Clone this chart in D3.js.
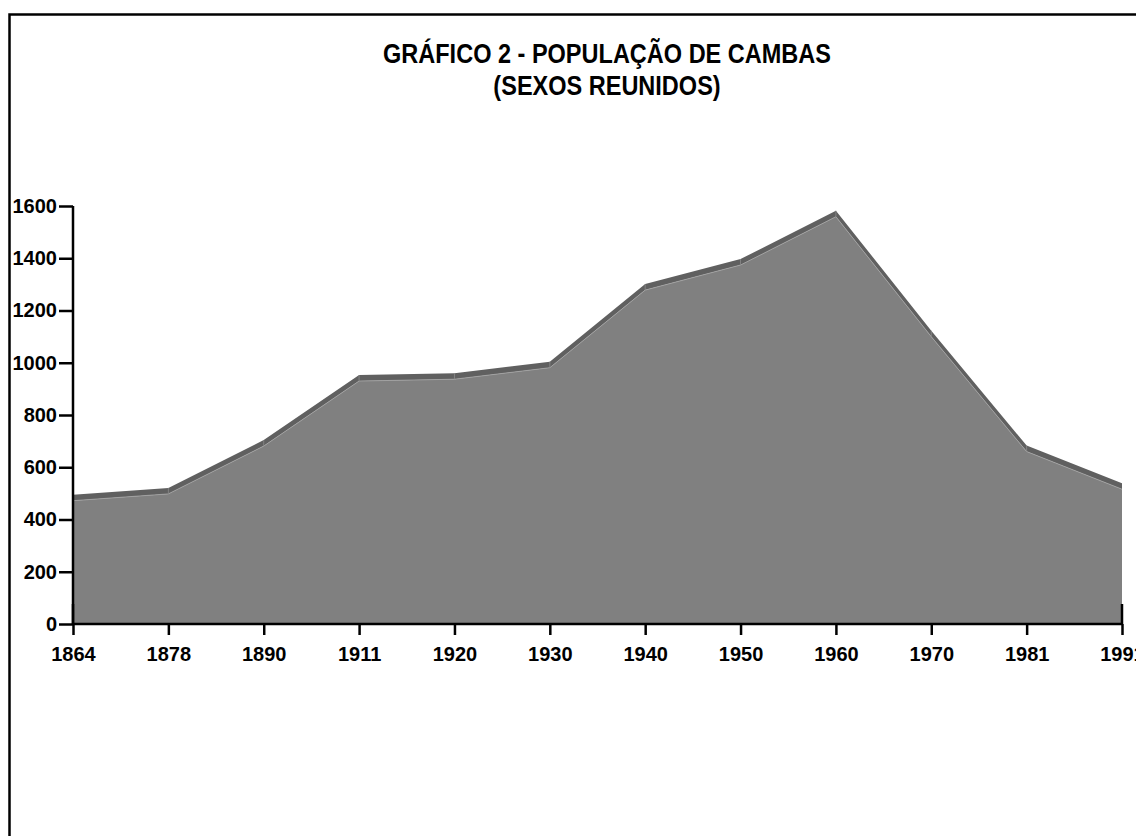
<!DOCTYPE html>
<html>
<head>
<meta charset="utf-8">
<script src="https://cdn.jsdelivr.net/npm/d3@7"></script>
<style>
  html, body { margin: 0; padding: 0; background: #fff; overflow: hidden; }
  svg { display: block; }
</style>
</head>
<body>
<div id="chart"></div>
<script>
// chart data
const years = ["1864", "1878", "1890", "1911", "1920", "1930", "1940", "1950", "1960", "1970", "1981", "1991"];
const population = [472, 498, 681, 930, 937, 981, 1278, 1374, 1559, 1100, 660, 516];
const yTicks = [0, 200, 400, 600, 800, 1000, 1200, 1400, 1600];
const titleLines = ["GRÁFICO 2 - POPULAÇÃO DE CAMBAS", "(SEXOS REUNIDOS)"];

const width = 1136;
const height = 836;
const depth = 6; // thickness of the 3d top band

const svg = d3.select("#chart")
  .append("svg")
  .attr("width", width)
  .attr("height", height);

const x = d3.scalePoint().domain(years).range([73, 1122]);
const y = d3.scaleLinear().domain([0, 1600]).range([624, 206]);

const pts = years.map((d, i) => ({ year: d, value: population[i] }));

// outer frame
svg.append("rect")
  .attr("x", 9.5)
  .attr("y", 14.5)
  .attr("width", width + 20)
  .attr("height", height + 20)
  .attr("fill", "none")
  .attr("stroke", "#000")
  .attr("stroke-width", 2.5);

// title (narrow bold face, squeezed since no Arial Narrow here)
const title = svg.append("text")
  .attr("text-anchor", "middle")
  .attr("font-family", "'Liberation Sans', Arial, sans-serif")
  .attr("font-weight", "bold")
  .attr("font-size", 28)
  .attr("fill", "#000")
  .attr("transform", "translate(607,0) scale(0.84,1)");
title.selectAll("tspan")
  .data(titleLines)
  .join("tspan")
  .attr("x", 0)
  .attr("y", (d, i) => 63 + i * 32)
  .text((d) => d);

// front face of the area
const area = d3.area()
  .x((d) => x(d.year))
  .y0(y(0))
  .y1((d) => y(d.value));

svg.append("path")
  .datum(pts)
  .attr("d", area)
  .attr("fill", "#808080");

// top band (depth)
const band = d3.area()
  .x((d) => x(d.year))
  .y0((d) => y(d.value))
  .y1((d) => y(d.value) - depth);

svg.append("path")
  .datum(pts)
  .attr("d", band)
  .attr("fill", "#606060");

// light edge between front and top
svg.append("path")
  .datum(pts)
  .attr("d", d3.line().x((d) => x(d.year)).y((d) => y(d.value)))
  .attr("fill", "none")
  .attr("stroke", "#a6a6a6")
  .attr("stroke-width", 0.8);

svg.append("g")
  .selectAll("line")
  .data(pts.slice(1, -1))
  .join("line")
  .attr("x1", (d) => x(d.year))
  .attr("x2", (d) => x(d.year))
  .attr("y1", (d) => y(d.value))
  .attr("y2", (d) => y(d.value) - depth)
  .attr("stroke", "#8c8c8c")
  .attr("stroke-width", 0.8);

// floor edges
svg.append("g")
  .selectAll("line")
  .data([years[0], years[years.length - 1]])
  .join("line")
  .attr("x1", (d) => x(d))
  .attr("x2", (d) => x(d))
  .attr("y1", y(0) - 20)
  .attr("y2", y(0))
  .attr("stroke", "#000")
  .attr("stroke-width", 2.5);

// axes
const yAxis = d3.axisLeft(y)
  .tickValues(yTicks)
  .tickSize(14)
  .tickPadding(2)
  .tickFormat(d3.format("d"));

const gy = svg.append("g")
  .attr("transform", `translate(${x(years[0])},0)`)
  .call(yAxis);

const xAxis = d3.axisBottom(x)
  .tickSize(11)
  .tickPadding(12);

const gx = svg.append("g")
  .attr("transform", `translate(0,${y(0)})`)
  .call(xAxis);

[gx, gy].forEach((g) => {
  g.select(".domain").attr("stroke", "#000").attr("stroke-width", 2.5);
  g.selectAll(".tick line").attr("stroke", "#000").attr("stroke-width", 2.5);
  g.selectAll(".tick text")
    .attr("fill", "#000")
    .attr("font-family", "'Liberation Sans', Arial, sans-serif")
    .attr("font-weight", "bold")
    .attr("font-size", 20);
});
gy.select(".domain").attr("d", `M0,${y(1600)}V${y(0)}`);
gx.select(".domain").attr("d", `M${x(years[0])},0H${x(years[years.length - 1])}`);
</script>
</body>
</html>
